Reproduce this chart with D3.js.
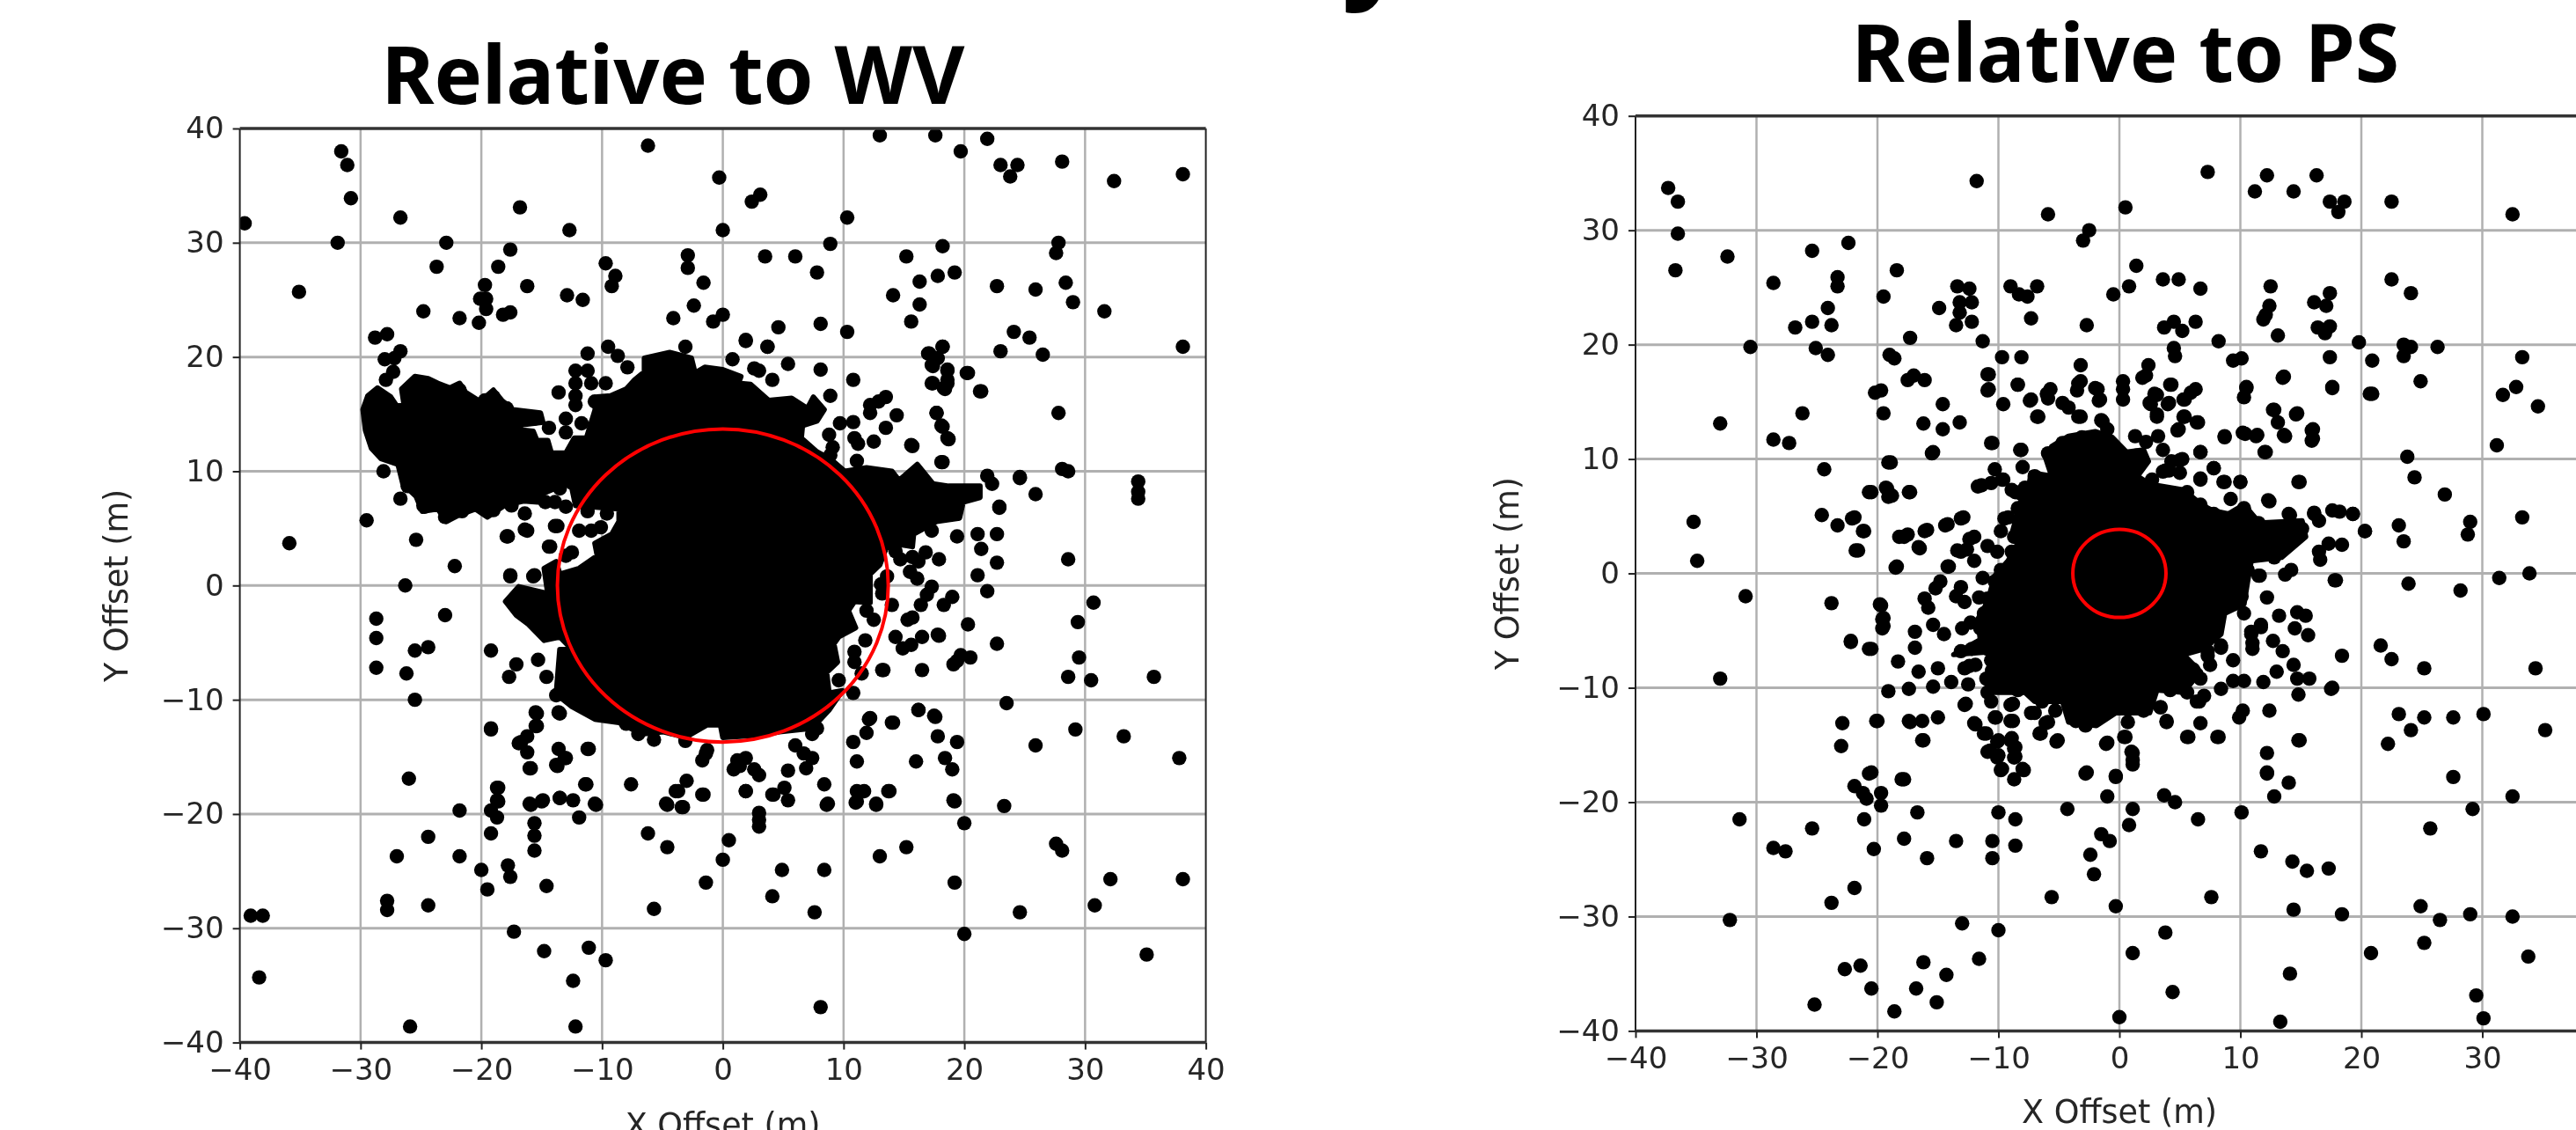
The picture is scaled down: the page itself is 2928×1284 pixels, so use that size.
<!DOCTYPE html>
<html>
<head>
<meta charset="utf-8">
<script src="https://cdn.jsdelivr.net/npm/d3@7"></script>
<style>
html,body{margin:0;padding:0;background:#fff;overflow:hidden;}
svg{display:block;filter:blur(.7px);}
</style>
</head>
<body>
<svg id="chart" width="2928" height="1284"></svg>
<script>
const tickValues=[-40,-30,-20,-10,0,10,20,30,40];
const psXTicks=[-40,-30,-20,-10,0,10,20,30]; //40 is past the crop
const wvTitle='Relative to WV';
const psTitle='Relative to PS';
const xLabel='X Offset (m)';
const yLabel='Y Offset (m)';
const wvRadius=13.7;
const psRadius=3.85;

//outline of the saturated black mass, individual points cant be read in there
const wvCore=[[-29.8,15.4],[-29.4,16.6],[-28.6,17.3],[-27.5,16.5],[-27,15.7],[-26.4,15.8],[-26.6,17.2],[-25.5,18.3],[-24.4,18.1],[-23.6,17.7],[-22.6,17.3],[-21.8,17.7],[-21.3,16.9],[-20.1,16.1],[-19,17.1],[-18.3,16.2],[-17.4,15.4],[-15.1,15.1],[-14.9,14.3],[-17.1,14],[-16.6,13.6],[-15.7,13.5],[-15.4,12.7],[-14.5,12.7],[-14.2,11.6],[-13,11.6],[-12.3,12.9],[-11.3,12.9],[-10.6,15.3],[-10.4,16.5],[-9.3,16.6],[-8,17.2],[-7.3,18],[-6.5,18.7],[-6.5,19.9],[-4.4,20.4],[-2.6,19.9],[-2.3,18.6],[-1.5,19.1],[0,18.9],[1.5,18.3],[1.3,17.7],[2.3,17.6],[3.8,16.2],[5.7,16.4],[7,15.5],[7.5,16.5],[8.4,15.4],[7.8,14.4],[6.6,14],[6.5,12.9],[7.8,11.7],[9,11],[10.1,10],[11.9,10.3],[14,10],[14.6,9.2],[16.1,10.6],[17.4,8.9],[18.7,8.7],[21.3,8.7],[21.3,7.7],[19.9,7.3],[19.6,5.9],[17.7,5.6],[15.8,4.5],[15.7,3.4],[14,3.7],[13.5,3.2],[13,1.8],[12.2,1],[12.2,-1.5],[10.9,-1.4],[10.4,-2.2],[11,-3.7],[9.6,-4.5],[9.2,-5.1],[9.5,-6.7],[8.6,-7.6],[8.8,-9.4],[9.9,-9.2],[8.8,-10.9],[7.4,-12.5],[4.7,-12.8],[3.1,-13.1],[0,-13.3],[-0.2,-12.2],[-1.3,-12.2],[-3.1,-13.3],[-4.9,-12.8],[-6.7,-13],[-8.6,-12],[-10.6,-11.7],[-12.5,-10.6],[-13.8,-9.5],[-13.5,-5.6],[-12.5,-5.6],[-13.5,-4.5],[-14.8,-4.8],[-16.1,-3.4],[-17.1,-2.6],[-18,-1.4],[-16.9,-0.1],[-14.5,-0.7],[-14.8,1.5],[-13.8,2.1],[-13.5,1],[-11.9,1.5],[-10.4,2.6],[-10.6,3.7],[-9.2,4.5],[-8.6,5.6],[-8.6,6.7],[-12.2,7],[-12.5,8.5],[-13,8.9],[-14.8,8.1],[-15.3,7.3],[-16.5,7.4],[-18.1,7],[-19.5,6],[-20.5,6.7],[-21.8,6.2],[-22.9,5.6],[-23.6,6.7],[-24.9,6.5],[-25.4,7.8],[-26.5,8.9],[-26.9,10.6],[-28.3,11.1],[-29.1,12],[-29.6,13.6]];

const psCore=[[-6.1,10.1],[-5.6,11.1],[-4.2,12],[-2,12.4],[-0.6,11.9],[0.6,10.6],[2,10.8],[2.4,9.8],[1.5,8.5],[2.5,7.8],[5.3,7.3],[6.8,6],[7.7,5.5],[9,5.2],[10.3,6],[11.6,4.4],[15.1,4.6],[15.4,3.2],[13.4,1.4],[10.9,1.1],[10.6,-0.7],[10.3,-2.7],[8.7,-3.5],[8.4,-5.3],[7,-6.6],[5.3,-7.1],[6.7,-8.6],[5.3,-10.4],[3.1,-10.2],[2.5,-12.2],[-0.3,-12.2],[-1.9,-13.3],[-4.2,-13],[-4.7,-11.2],[-7,-11.2],[-7.8,-10.4],[-10.9,-10.4],[-10.9,-8.4],[-10.1,-6.8],[-13.7,-7.1],[-11.5,-5.8],[-11.7,-4],[-10.9,-2.5],[-10.3,-0.2],[-9.2,1.1],[-8.4,2.6],[-8.9,3.4],[-8.1,6.5],[-9.2,7.2],[-7.5,7.5],[-7.3,8.8],[-5.6,8.5]];

const wvPoints=[[-39.6,31.7],[-31.6,38],[-31.1,36.8],[-30.8,33.9],[-26.7,32.2],[-16.8,33.1],[-6.2,38.5],[-0.3,35.7],[2.4,33.6],[3.1,34.2],[13,39.4],[17.6,39.4],[21.9,39.1],[19.7,38],[23,36.8],[24.4,36.8],[23.8,35.8],[28.1,37.1],[32.4,35.4],[38.1,36],[0,31.1],[10.3,32.2],[-12.7,31.1],[-31.9,30],[-22.9,30],[-17.6,29.4],[-23.7,27.9],[-18.6,27.9],[-35.1,25.7],[-19.7,26.3],[-16.2,26.2],[-20.1,25.1],[-19.6,25.1],[-19.6,24.2],[-24.8,24],[-21.8,23.4],[-20.2,23],[-18.2,23.7],[-17.6,23.9],[-12.9,25.4],[-11.6,25],[-9.7,28.2],[-8.9,27.1],[-9.2,26.2],[-2.9,28.9],[-2.9,27.8],[-1.6,26.5],[-2.4,24.5],[-4.1,23.4],[0,23.7],[-0.8,23.1],[3.5,28.8],[6,28.8],[8.9,29.9],[7.8,27.4],[4.6,22.6],[8.1,22.9],[10.3,22.2],[1.9,21.4],[3.7,20.9],[15.2,28.8],[18.2,29.7],[27.8,30],[27.6,29.1],[17.8,27.1],[19.2,27.4],[16.3,26.6],[14.1,25.4],[16.3,24.6],[15.6,23.1],[22.7,26.2],[25.9,25.9],[28.4,26.5],[29,24.8],[31.6,24],[24.1,22.2],[25.4,21.7],[23,20.5],[26.5,20.2],[38.1,20.9],[18.2,20.9],[17.1,20.3],[17.4,19.2],[18.6,18.9],[18.6,18],[18.4,17.2],[17.4,17.7],[20.3,18.6],[21.4,17],[27.8,15.1],[17.7,15.1],[18.2,13.9],[18.6,12.9],[15.6,12.3],[18.2,10.8],[28.1,10.2],[28.6,10],[34.4,9.1],[34.4,8.2],[34.4,7.6],[24.6,9.5],[25.9,8],[22.9,6.8],[22.7,4.5],[21.1,4.5],[19.4,4.3],[21.4,3.2],[22.7,2],[28.6,2.3],[21.1,0.9],[21.9,-0.5],[-28.8,21.7],[-27.8,22],[-26.7,20.5],[-27.2,19.9],[-28,19.8],[-27.9,18],[-27.3,18.7],[-29.5,5.7],[-35.9,3.7],[-25.4,4],[-22.2,1.7],[-26.3,0],[-26.7,7.6],[-24.7,6.9],[-28.1,10],[-17.8,4.3],[-16.2,4.8],[-14.3,3.4],[-13.7,5.2],[-17.6,0.9],[-15.6,0.9],
[-13.6,16.9],[-13,14.6],[-14.4,13.8],[-13,13.4],[-12.2,18.8],[-12.2,17.7],[-12.2,16.6],[-12.2,15.8],[-11.2,20.3],[-11.2,18.8],[-10.9,17.7],[-9.7,17.7],[-10.6,16.1],[-11.7,14.2],[-9.5,20.9],[-8.7,20.1],[-7.9,19.1],[-3.1,20.9],[-14.9,12.1],[-16.4,4.9],[-17.9,4.3],[-13.9,5.2],[-14.4,3.4],[-16.4,6.3],[-11.2,6.5],[-13,6.9],[-11.9,4.8],[-12.5,2.9],[-13,2.6],[-10.9,4.8],[-10.1,5.1],[-9.6,6.3],[-17.6,0.8],[-15.7,0.8],[-19.2,-5.7],[-17.1,-6.9],[-17.7,-8],[-15.3,-6.5],[-14.6,-8],[-13,-6.7],[-13.2,-8.1],[-13.8,-9.6],[-15.5,-11.1],[-15.5,-12.3],[-16.2,-13.2],[-16.9,-13.8],[-16.2,-14.6],[-13.6,-11.1],[-19.2,-12.6],[-13.6,-14.3],[-13,-15.1],[-13.8,-15.7],[-11.2,-14.3],[-16,-16],[-26,-16.9],[-18.7,-17.7],[-18.7,-18.8],[-11.4,-17.4],[-7.6,-17.4],[-3,-17.1],[-3.9,-18],[-1.7,-18.3],[-1.4,-14.7],[-1.7,-15.3],[-3.1,-13.6],[-7,-13],[-5.7,-13.5],[-8,-12.1],[-13.5,-18.6],[-14.9,-18.8],[-16,-19.1],[-12.4,-18.8],[-10.6,-19.1],[-4.7,-19.1],[-3.4,-19.4],[0.9,-16.1],[1.2,-15.3],[-28.7,-2.9],[-28.7,-4.6],[-28.7,-7.2],[-23,-2.6],[-25.5,-5.7],[-24.4,-5.4],[-26.2,-7.7],[-25.5,-10],
[8.9,16.6],[8.1,18.9],[5.4,19.4],[4.1,18],[10.8,18],[2.6,19],[3,18.8],[0.8,19.8],[1.9,21.5],[3.7,20.9],[12.2,15.8],[13.5,16.5],[12.2,15.1],[12.9,16.1],[14.4,14.9],[13.5,13.8],[9.7,14.2],[10.8,14.3],[8.8,13.2],[10.9,12.9],[11.2,12.4],[12.5,12.6],[9.1,12.1],[8.9,11.4],[15.7,12.2],[11.1,10.9],[18.1,10.8],[17.7,15.1],[18.1,14],[18.7,12.8],[20.2,18.6],[21.3,17],[17,20.3],[18.2,20.9],[17.8,19.9],[17.3,19.3],[17.3,17.7],[18.6,18.8],[18.6,17.7],[18.3,17.3],[21.9,9.6],[22.3,8.9],[24.6,9.4],[22.9,6.9],[17.3,4.8],[17.9,2.3],[16.8,2.9],[15.7,2.5],[16.2,2.1],[14.3,3],[14.7,2.3],[15.5,1.2],[16.1,0.6],[17.3,-0.1],[16.9,-0.8],[16.4,-1.7],[19,-1],[18.3,-1.7],[14,-1.7],[15.3,-3],[15.7,-2.8],[12.5,-3],[11.9,-2.2],[13.6,0.8],[13.1,0.1],[13.2,-0.7],[20.3,-3.4],[30.7,-1.5],[29.4,-3.2],[29.5,-6.3],[22.7,-5.1],[28.6,-8],[30.5,-8.3],[35.7,-8],[11.8,-4.8],[10.9,-5.8],[10.9,-6.7],[11.5,-7.7],[13.2,-7.4],[16.5,-7.4],[9.6,-8.3],[10.8,-9.4],[14.3,-4.5],[14.9,-5.5],[15.6,-5.2],[16.5,-4.5],[17.8,-4.3],[19.7,-6.1],[20.5,-6.3],[19.1,-6.9],[23.5,-10.3],[16.2,-10.9],[17.5,-11.4],[12.1,-11.7],[11.9,-12.9],[10.8,-13.7],[14,-12],[17.8,-13.2],[19.4,-13.7],[29.2,-12.6],[33.2,-13.2],[25.9,-14],[37.8,-15.1],[11.1,-15.4],[16,-15.4],[18.4,-15.1],[19,-16.1],[6,-14],[6.7,-14.7],[7.4,-15.1],[6.9,-16],[7.8,-12.5],[7.4,-13],[1.4,-15.8],[1.9,-15.1],[2.6,-16.1],[3,-16.6],[5.4,-16.2],[8.4,-17.4],[1.9,-18],[4.1,-18.3],[5.1,-17.7],[5.4,-18.8],[11.1,-18],[11.7,-18],[11,-19],[13.8,-18],[8.7,-19.1],[12.7,-19.1],[19.1,-18.8],[23.3,-19.3],[-1.3,-14.4],
[-19.2,-12.5],[-15.4,-11.2],[-15.4,-12.3],[-16.7,-13.7],[-15.9,-16],[-13.5,-11.2],[-13.1,-15.1],[-13.7,-15.8],[-11.1,-14.3],[-18.6,-17.7],[-18.6,-18.9],[-19.2,-19.7],[-18.7,-20.3],[-21.8,-19.7],[-15.9,-19.2],[-15,-18.9],[-13.5,-18.6],[-11.3,-17.4],[-10.5,-19.2],[-11.9,-20.3],[-4.6,-19.2],[-3.7,-18],[-3.3,-19.4],[-1.6,-18.3],[1.9,-18],[4.2,-18.3],[3,-19.9],[3,-20.5],[3,-21.1],[8.6,-19.2],[11.1,-18.9],[13.7,-18],[12.7,-19.2],[19.2,-18.9],[20,-20.8],[-15.6,-20.8],[-15.6,-21.9],[-15.6,-23.2],[-19.2,-21.7],[-24.4,-22],[-27,-23.7],[-21.8,-23.7],[-20,-24.9],[-17.8,-24.5],[-17.6,-25.5],[-19.5,-26.6],[-14.6,-26.3],[-6.2,-21.7],[-4.6,-22.9],[0.5,-22.3],[0,-24],[-1.4,-26],[4.9,-24.9],[8.4,-24.9],[13,-23.7],[15.2,-22.9],[27.6,-22.6],[28.1,-23.2],[19.2,-26],[32.1,-25.7],[38.1,-25.7],[-27.8,-27.6],[-27.8,-28.4],[-24.4,-28],[-5.7,-28.3],[4.1,-27.2],[7.6,-28.6],[24.6,-28.6],[30.8,-28],[-39.1,-28.9],[-38.1,-28.9],[-17.3,-30.3],[20,-30.5],[-14.8,-32],[-11.1,-31.7],[-9.7,-32.8],[35.1,-32.3],[-12.4,-34.6],[-38.4,-34.3],[8.1,-36.9],[-25.9,-38.6],[-12.2,-38.6],[16.2,-10.9],[17.6,-11.5],[14.1,-12],[12.2,-11.6],[13.3,-7.4],[19.4,-6.6],[17.9,-4.4],
[-25.5,17.6],[-23.8,17.1],[-21.8,17.1],[-19,16.5],[-19.7,16.2],[-17.9,15.5],[-16.6,14.6],[-15.6,14.6],[-28.7,16.5],[-29.2,15.3],[-29,13.6],[-28.6,12.1],[-27.3,11.4],[-26.2,9.5],[-26.1,8.7],[-24.8,7],[-23,6],[-21.6,6.5],[-19,6.6],[-17.5,7],[-14.7,7.3],[-13.9,7.3],[-13.5,8.5]];

const psPoints=[[-37.3,33.7],[-36.5,32.5],[-36.5,29.7],[-36.7,26.5],[-32.4,27.7],[-28.6,25.4],[-25.4,28.2],[-22.4,28.9],[-18.4,26.5],[-23.3,25.9],[-23.3,25.1],[-11.8,34.3],[-5.9,31.4],[0.5,32],[-2.5,30],[-3,29.1],[7.3,35.1],[12.2,34.8],[16.3,34.8],[11.2,33.4],[14.4,33.4],[17.4,32.5],[18.6,32.5],[18.1,31.6],[22.5,32.5],[32.5,31.4],[1.4,26.9],[3.6,25.7],[4.9,25.7],[6.7,24.9],[0.8,25.1],[-0.5,24.4],[-13.4,25.1],[-12.4,24.9],[-9,25.1],[-6.8,25.1],[-8.3,24.4],[-7.6,24.2],[-19.5,24.2],[-13.2,23.7],[-12.2,23.7],[-13.2,22.8],[-14.9,23.2],[-24.1,23.2],[-25.4,22],[-23.8,21.7],[-26.8,21.5],[-13.5,21.7],[-12.2,22],[-7.3,22.3],[-2.7,21.7],[3.7,21.5],[4.5,22],[5.2,21.2],[6.3,22],[12.5,25.1],[12.4,23.4],[12.1,22.6],[11.9,22.2],[13.1,20.8],[17.4,24.5],[16.1,23.7],[17.1,23.4],[17.4,21.6],[16.4,21.5],[17,21],[22.5,25.7],[24.1,24.5],[8.2,20.3],[19.8,20.2],[23.5,20],[24.1,19.8],[23.5,19],[26.3,19.8],[20.9,18.6],[17.4,18.9],[33.3,18.9],[4.5,19.7],[4.6,19],[9.4,18.6],[10.1,18.8],[-30.5,19.8],[-25.1,19.7],[-24.1,19.1],[-17.3,20.6],[-19,19.1],[-18.6,18.8],[-11.3,20.3],[-9.7,18.9],[-8.1,18.9],[-10.8,17.4],[-3.2,18.2],[2.4,18.2],[2.2,17.3],[1.9,17.1],[-17,17.3],[-17.5,16.9],[-16.1,16.9],[-20.2,15.8],[-19.7,16],[-8.4,16.5],[-10.8,16.1],[-5.7,16.1],[-5.9,15.3],[-3.2,16.8],[-3.5,16],[-1.8,16.1],[-1.6,15.2],[0.3,16.8],[0.3,16.1],[0.3,15.2],[4.3,16.5],[3.1,15.6],[2.6,14.8],[4.1,14.9],[6.3,16.1],[5.4,15.2],[10.5,16.3],[10.3,15.4],[13.6,17.2],[17.6,16.3],[20.9,15.7],[24.9,16.8],[32.8,16.3],[31.7,15.6],[34.6,14.6],[31.2,11.2],[23.8,10.2],[24.4,8.4],[26.9,6.9],[33.3,4.9],[29,4.5],[28.8,3.4],[23.1,4.2],[23.5,2.8],[20.3,3.7],[14.8,8],[18.2,5.4],[19.3,5.2],[-14.6,14.8],[-16.2,13.1],[-14.6,12.6],[-13.2,13.2],[-19.5,14],[-26.2,14],[-33,13.1],[-28.6,11.7],[-27.3,11.4],[-10.5,11.4],[-8.1,10.8],[-15.4,10.6],[-18.9,9.7],[-24.4,9.1],[-20.5,7.1],[-19.2,7.4],[-18.8,6.8],[-17.3,7.1],[-24.6,5.1],[-23.3,4.2],[-21.9,4.9],[-21.1,3.7],[-35.2,4.5],[-34.9,1.1],[-21.6,2],[-17.8,3.2],[-15.9,3.8],[-16.5,2.2],[-14.4,4.2],[-12.9,4.9],[-18.4,0.6],[-14.1,0.6],[-13.1,1.9],[-12,3.2],[-11.4,7.7],[-9.7,8.2],[-8.6,7.1],[-4.2,14.5],[-3.2,13.7],[-6.7,13.7],[-7.3,15.2],[-1.5,13.4],[3.1,13.7],[5.4,13.7],[6.5,13.2],[4.9,12.6],[8.7,11.9],[10.4,12.2],[11.4,12.1],[12.1,10.6],[13.1,13.2],[13.6,12.1],[12.8,14.3],[14.7,14],[16,12.6],[16,11.8],[8.7,8],[10,8],[6.7,10.6],[7.8,9.2],[6.7,8.2],[5.2,10],[4.1,9],[12.4,6.3],[14,5.2],[16.1,5.3],
[-10.3,9.1],[-10.6,7.9],[-11.7,7.6],[-9.6,8.2],[-8,9.3],[-7,8.5],[-8.2,10.8],[-10.6,11.4],[-15.5,10.5],[-19.1,9.7],[-20.7,7.1],[-19.3,7.5],[-19.1,6.7],[-17.4,7.1],[-22.1,4.8],[-21.2,3.7],[-21.8,2],[-18.2,3.2],[-17.5,3.4],[-16.1,3.7],[-16.6,2.3],[-13.1,4.8],[-14.2,4.3],[-18.5,0.5],[-14.2,0.6],[-14.8,-0.7],[-15.2,-1.3],[-12.4,3],[-12.6,2.1],[-13.4,2],[-12,1.1],[-10.9,2.4],[-10.1,1.9],[-9.8,3.7],[-9.5,4.8],[-11.3,-0.4],[-13.1,-1.2],[-13.5,-2],[-12.8,-2.5],[-11.6,-2.1],[-16.1,-2.2],[-15.8,-3],[-19.8,-2.7],[-19.6,-4],[-19.6,-4.8],[-22.2,-5.9],[-20.7,-6.6],[-16.9,-5.1],[-16.9,-6.5],[-15.4,-4.5],[-14.5,-5.3],[-13,-4.8],[-12.3,-4.3],[-18.3,-7.7],[-16.6,-8.6],[-15,-8.3],[-19.1,-10.3],[-17.4,-10.1],[-15.4,-9.9],[-13.9,-9.5],[-12.5,-9.7],[-12.8,-8.3],[-11.9,-8],[-12.8,-11.5],[-20.1,-12.9],[-17.4,-12.9],[-16.3,-12.9],[-15,-12.6],[-16.3,-14.6],[-12,-13.1],[-11.2,-14],[-10.3,-12.6],[-9,-11.5],[-9,-12.9],[-10.1,-14.7],[-8.9,-14.4],[-10.9,-15.6],[-10.1,-16.1],[-8.7,-15.3],[-8.7,-16.1],[-9.8,-17.2],[-7.9,-17.2],[-8.7,-18],[-20.7,-17.5],[-18,-18],[-5.2,-14.7],[-6.6,-14],[-7.3,-12.2],[-6.1,-13.1],[-1.1,-14.9],[-2.8,-17.5],[-0.3,-17.7],[0.4,-14.3],[0.7,-13],[1,-15.6],[1.1,-16.3],[3.9,-12.9],[3.4,-11.7],[5.6,-14.3],[6.7,-13.1],[8.1,-14.3],[6.6,-11.2],[9.9,-12.6],[10.2,-12],[12.4,-12],[14.9,-14.6],[12.2,-15.7],[12.2,-17.5],[14,-18.3],[9.4,-9.4],[8.4,-10.1],[10.3,-9.4],[11.9,-9.5],[13,-8.6],[14.7,-9.2],[15.7,-9.2],[14.8,-10.6],[17.5,-10.1],[9.4,-7.6],[7.5,-8],[7.3,-6.8],[8.4,-6.3],[18.4,-7.2],[14.4,-8],[13.5,-6.8],[12.7,-5.9],[15.6,-5.4],[14.5,-4.8],[11.7,-4.7],[10.9,-5.1],[11,-6.1],[13.2,-3.7],[14.7,-3.4],[15.4,-3.7],[12.2,-2.1],[11.5,-0.2],[13.7,-0.1],[14.2,0.3],[17.8,-0.6],[16.6,1.2],[16.5,1.9],[17.3,2.6],[18.4,2.5],[20.3,3.7],[17.6,5.5],[19.3,5.2],[16.1,5.2],[16.5,4.6],[14.1,5.1],[12.3,6.4],[9.2,6.5],[14.9,8],[10,8],[8.6,8],[7.8,9.2],[6.7,10.6],[6.7,8.3],[5,9.9],[5,8.8],[3.8,9],[2.7,8.2],[12,10.6],[11.3,12],[8.7,12],[10.2,12.3],[13.7,12],[12.7,14.3],[14.6,13.9],[15.9,12.5],[15.9,11.6],[17.6,16.2],[13.5,17.1],[10.5,16.2],[20.7,15.7],[6.4,13.2],[5.3,13.7],[4.8,12.5],[5.9,15.8],[5.3,15.2],[4,14.8],[2.5,14.9],[3.1,13.9],[4.2,16.5],[2.9,15.7],[-3.4,16.6],[-1.7,15.1],[-2,16.2],[-6,15.7],[-7.4,15.1],[-8.4,16.5],[-10.9,17.4],[-10.9,16],[-9.6,14.8],[-6.8,13.7],[-4.7,14.9],[-3.4,13.7],[-1.4,13.3],[-1,12.6],
[-30.9,-2],[-23.8,-2.6],[-19.7,-2.8],[-19.5,-3.9],[-19.5,-4.6],[-22.2,-6],[-20.5,-6.6],[-33,-9.2],[17.6,-10],[21.6,-6.3],[22.5,-7.5],[25.2,-8.3],[34.4,-8.3],[23.9,-0.9],[28.2,-1.5],[31.4,-0.4],[33.9,0],[17.9,-0.6],[23.1,-12.3],[25.2,-12.6],[27.6,-12.6],[30.1,-12.3],[24.1,-13.7],[22.2,-14.9],[35.2,-13.7],[27.6,-17.8],[32.5,-19.5],[29.2,-20.6],[25.7,-22.3],[14.8,-14.6],[12.2,-17.4],[12.8,-19.5],[10.1,-20.9],[6.5,-21.5],[3.7,-19.4],[4.6,-20],[1.1,-20.6],[0.8,-22],[-1,-19.5],[-0.3,-17.8],[-2.7,-17.4],[-4.3,-20.6],[-1.5,-22.8],[-0.8,-23.4],[-2.4,-24.6],[-2.1,-26.3],[1.1,-15.7],[1.1,-16.7],[0.5,-14.3],[-1,-14.8],[8.2,-14.3],[5.7,-14.3],[11.7,-24.3],[14.3,-25.2],[15.5,-26],[17.3,-25.8],[-5.6,-28.3],[7.6,-28.3],[-0.3,-29.1],[14.4,-29.4],[18.4,-29.8],[24.9,-29.1],[26.5,-30.3],[29,-29.8],[32.5,-30],[-13,-30.6],[-10,-31.2],[3.8,-31.4],[1.1,-33.2],[20.8,-33.2],[25.2,-32.3],[33.8,-33.5],[-11.6,-33.7],[-16.2,-34],[-21.4,-34.3],[-22.7,-34.6],[-14.3,-35.1],[14.1,-35],[-20.5,-36.3],[-16.8,-36.3],[4.4,-36.6],[29.5,-36.9],[-25.2,-37.7],[-15.1,-37.5],[-18.6,-38.3],[0,-38.8],[13.3,-39.2],[30.1,-38.9],[-31.4,-21.5],[-32.2,-30.3],[-25.4,-22.3],[-28.6,-24],[-27.6,-24.3],[-21.9,-27.5],[-23.8,-28.8],[-17.8,-18],[-20.5,-17.4],[-21.9,-18.6],[-21.2,-19.2],[-20.9,-19.7],[-19.7,-19.2],[-19.7,-20.3],[-21.1,-21.5],[-16.7,-20.9],[-10,-20.9],[-8.6,-21.5],[-17.8,-23.2],[-20.3,-24.1],[-15.9,-24.9],[-13.5,-23.4],[-10.5,-23.4],[-8.6,-23.8],[-10.5,-24.9],[-22.9,-13.1],[-23,-15.1],[-20,-12.9],[-17.3,-13],[-16.2,-14.6],[-12.7,-11.4],[-8.8,-11.4],[-10.2,-12.6],[-8.8,-12.9],[-11.9,-13.2],[-11,-14],[-10,-14.6],[-9,-14.6],[-10.7,-15.5],[-8.6,-15.2],[-10,-15.9],[-8.6,-16],[-9.7,-17.1],[-8,-17.1],[-6.5,-14],[-5.1,-14.6],
[-5.9,10.5],[-4.7,11.4],[-3.1,11.9],[-1.1,11.7],[1.4,10.3],[1.3,12],[2.2,11.5],[3.2,12],[3.6,10.8],[4.3,9.8],[3.6,8.9],[2.5,7.3],[3.6,7.1],[5.6,7.1],[6.7,6],[7.8,5.2],[10.3,5.7],[9.5,4.7],[11.5,4.4],[12.8,3.4],[15.1,3.9],[14.5,3],[13.4,2.1],[12.8,1.4],[12,1.9],[10.6,0.3],[11.6,-0.2],[9.8,-0.7],[10.1,-2],[8.7,-2.5],[10.3,-3.5],[11.7,-4.5],[10.9,-5.3],[11,-6.6],[7.8,-4.8],[7.3,-5.8],[8.4,-6.5],[7.3,-7.2],[6.1,-8.4],[6.7,-9.2],[5.6,-10.4],[6.4,-11.2],[7,-10.7],[4.2,-10.2],[3.4,-11.7],[3.9,-13],[2,-12],[1.4,-10.9],[-0.3,-11.2],[-1.9,-11.7],[-3.1,-12.2],[-2.8,-13.3],[-3.6,-12.9],[-5.3,-12],[-6.4,-11.2],[-7,-12.2],[-5.9,-13],[-8.4,-10.2],[-10.1,-9.9],[-10.9,-10.4],[-10.6,-11.2],[-11,-9.2],[-10.6,-7.6],[-12.4,-8.1],[-13.1,-6.8],[-12.2,-6.6],[-10.9,-6.6],[-11.5,-4.8],[-11.2,-3.5],[-10.9,-2.2],[-10.3,-0.7],[-9.8,0.3],[-8.9,1.9],[-8.7,3.2],[-9.2,4.9],[-8.4,5.7],[-7.8,7.5],[-8.9,7.3]];

const svg=d3.select('#chart');
const textColor='#262626';
const gridColor='#b0b0b0';

function drawPanel(id,box,title,points,core,radius,xTicks){
	const x=d3.scaleLinear().domain([-40,40]).range([box.left,box.right]);
	const y=d3.scaleLinear().domain([-40,40]).range([box.bottom,box.top]);
	const g=svg.append('g').attr('id',id);

	//clip to the axes like matplotlib does
	g.append('clipPath').attr('id',id+'-clip').append('rect')
		.attr('x',box.left).attr('y',box.top)
		.attr('width',box.right-box.left).attr('height',box.bottom-box.top);

	//grid
	g.append('g').selectAll('line').data(tickValues.slice(1,-1)).enter().append('line')
		.attr('x1',d=>x(d)).attr('x2',d=>x(d)).attr('y1',box.top).attr('y2',box.bottom)
		.attr('stroke',gridColor).attr('stroke-width',2.5);
	g.append('g').selectAll('line').data(tickValues.slice(1,-1)).enter().append('line')
		.attr('y1',d=>y(d)).attr('y2',d=>y(d)).attr('x1',box.left).attr('x2',box.right)
		.attr('stroke',gridColor).attr('stroke-width',3);

	const marks=g.append('g').attr('clip-path','url(#'+id+'-clip)');
	marks.append('path').datum(core)
		.attr('d',d3.line().x(d=>x(d[0])).y(d=>y(d[1])).curve(d3.curveLinearClosed))
		.attr('fill','#000').attr('stroke','#000').attr('stroke-width',6).attr('stroke-linejoin','round');
	marks.selectAll('circle').data(points).enter().append('circle')
		.attr('cx',d=>x(d[0])).attr('cy',d=>y(d[1])).attr('r',8.2).attr('fill','#000');
	marks.append('ellipse')
		.attr('cx',x(0)).attr('cy',y(0))
		.attr('rx',x(radius)-x(0)).attr('ry',y(0)-y(radius))
		.attr('fill','none').attr('stroke','#ff0000').attr('stroke-width',4);

	//spines, top and bottom come out heavier in the reference
	g.append('line').attr('x1',box.left).attr('x2',box.left).attr('y1',box.top).attr('y2',box.bottom)
		.attr('stroke','#222').attr('stroke-width',2);
	g.append('line').attr('x1',box.right).attr('x2',box.right).attr('y1',box.top).attr('y2',box.bottom)
		.attr('stroke','#222').attr('stroke-width',2);
	g.append('line').attr('x1',box.left).attr('x2',box.right).attr('y1',box.top).attr('y2',box.top)
		.attr('stroke','#333').attr('stroke-width',3.5);
	g.append('line').attr('x1',box.left).attr('x2',box.right).attr('y1',box.bottom).attr('y2',box.bottom)
		.attr('stroke','#333').attr('stroke-width',3.5);

	//axes
	const bottom=d3.axisBottom(x).tickValues(xTicks).tickSize(8).tickPadding(10).tickFormat(d3.format('d'));
	const left=d3.axisLeft(y).tickValues(tickValues).tickSize(8).tickPadding(10).tickFormat(d3.format('d'));
	[g.append('g').attr('transform','translate(0,'+box.bottom+')').call(bottom),
	 g.append('g').attr('transform','translate('+box.left+',0)').call(left)].forEach(a=>{
		a.select('.domain').remove();
		a.selectAll('line').attr('stroke','#222').attr('stroke-width',2);
		a.selectAll('text').attr('fill',textColor)
			.style('font-family','DejaVu Sans').style('font-size','34px');
	});

	g.append('text').attr('x',box.titleX).attr('y',box.titleY).attr('text-anchor','middle')
		.style('font-family','Noto Sans').style('font-weight','700').style('font-size','91.5px')
		.text(title);
	g.append('text').attr('x',x(0)).attr('y',box.xLabelY).attr('text-anchor','middle')
		.attr('fill',textColor).style('font-family','DejaVu Sans').style('font-size','36.5px')
		.text(xLabel);
	g.append('text').attr('transform','translate('+box.yLabelX+','+y(0)+') rotate(-90)')
		.attr('text-anchor','middle')
		.attr('fill',textColor).style('font-family','DejaVu Sans').style('font-size','36.5px')
		.text(yLabel);
}

drawPanel('wv',{left:272.6,right:1370.6,top:146,bottom:1184.6,titleX:765,titleY:118,xLabelY:1291,yLabelX:145},wvTitle,wvPoints,wvCore,wvRadius,tickValues);
drawPanel('ps',{left:1859,right:2959,top:131.7,bottom:1171.4,titleX:2416,titleY:93,xLabelY:1276,yLabelX:1726},psTitle,psPoints,psCore,psRadius,psXTicks);

//tail of the big page title, the rest of it is cut off by the crop
svg.append('text').attr('x',1525).attr('y',-17).style('font-family','Noto Sans').style('font-weight','700').style('font-size','135px').text('y');
</script>
</body>
</html>
